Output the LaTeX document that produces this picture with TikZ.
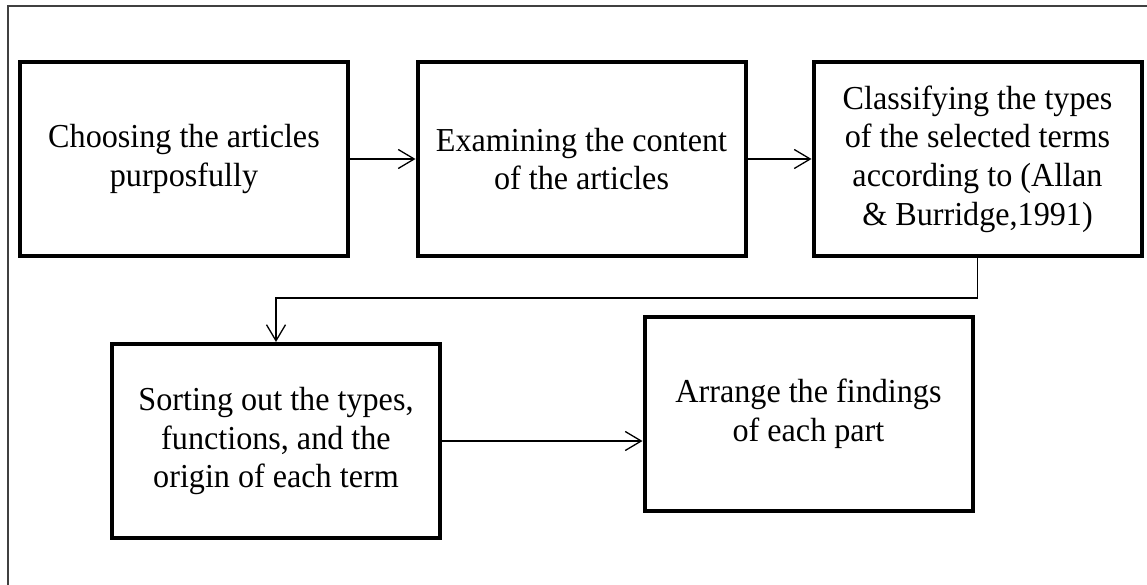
\documentclass[tikz,border=0pt]{standalone}
\usepackage{fontspec}
\setmainfont{Liberation Serif}
\newfontfamily\boxfont[FakeStretch=0.96]{Liberation Serif}
\usetikzlibrary{arrows.meta}
\begin{document}
\begin{tikzpicture}[x=1pt,y=-1pt,
  stepbox/.style={draw=black, line width=4pt, minimum width=328pt, minimum height=194pt,
    align=center, inner sep=0pt, font=\boxfont\fontsize{33.5}{38.7}\selectfont,
    execute at begin node={\rule{0pt}{35pt}}},
  flow/.style={draw=black, line width=1.3pt, -{Straight Barb[length=16pt,width=19pt]}},
  frameline/.style={draw=black!75, line width=2.7pt}]
\useasboundingbox (0,0) rectangle (1147,585);
\coordinate (fbl) at (8,585);
\coordinate (ftl) at (8,6);
\coordinate (ftr) at (1147,6);
\draw[frameline] (fbl) -- (ftl) -- (ftr);
\node[stepbox] (b1) at (184,159) {Choosing the articles\\purposfully};
\node[stepbox] (b2) at (581.5,159) {Examining the content\\of the articles};
\node[stepbox] (b3) at (977.5,159) {Classifying the types\\of the selected terms\\according to (Allan\\\& Burridge,1991)};
\node[stepbox] (b4) at (276,441) {Sorting out the types,\\functions, and the\\origin of each term};
\node[stepbox] (b5) at (808.5,413.5) {Arrange the findings\\of each part};
\draw[flow] (b1.east) -- (b2.west);
\draw[flow] (b2.east) -- (b3.west);
\draw[flow] (b3.south) -- ++(0,40) -| (b4.north);
\draw[flow] (b4.east) -- (b4.east -| b5.west);
\end{tikzpicture}
\end{document}
